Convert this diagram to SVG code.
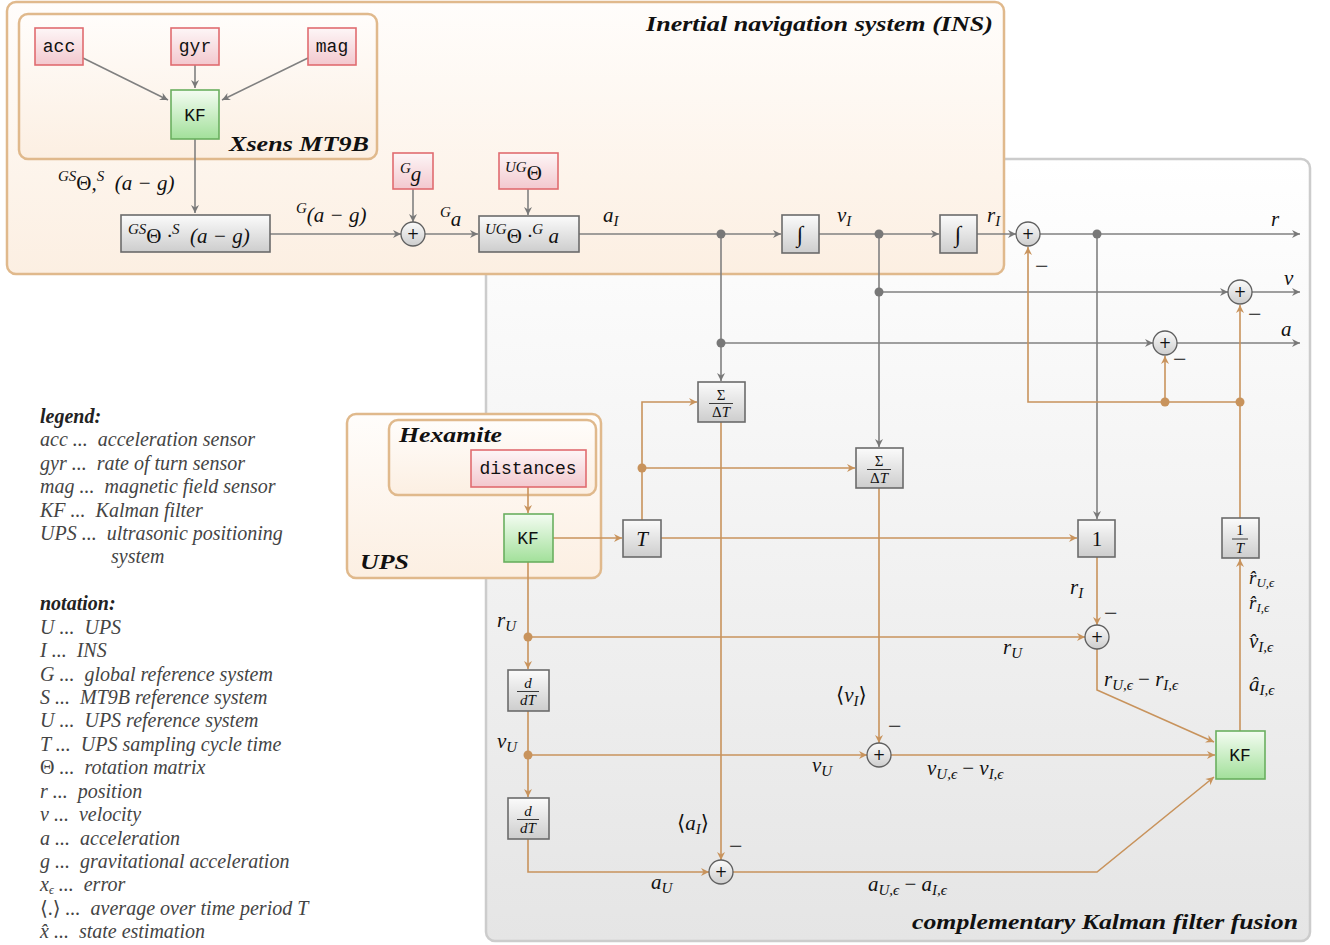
<svg xmlns="http://www.w3.org/2000/svg" width="1330" height="945" viewBox="0 0 1330 945">
  <defs>
    <linearGradient id="gPeach" x1="0" y1="0" x2="0" y2="1">
      <stop offset="0" stop-color="#fffdfb"/>
      <stop offset="1" stop-color="#fcefe2"/>
    </linearGradient>
    <linearGradient id="gPanel" x1="0" y1="0" x2="0" y2="1">
      <stop offset="0" stop-color="#ffffff"/>
      <stop offset="1" stop-color="#e5e5e5"/>
    </linearGradient>
    <linearGradient id="gRed" x1="0" y1="0" x2="0" y2="1">
      <stop offset="0" stop-color="#fdf6f7"/>
      <stop offset="1" stop-color="#f3c8ce"/>
    </linearGradient>
    <linearGradient id="gGreen" x1="0" y1="0" x2="0" y2="1">
      <stop offset="0" stop-color="#f4fcf2"/>
      <stop offset="1" stop-color="#a2e09a"/>
    </linearGradient>
    <linearGradient id="gGray" x1="0" y1="0" x2="0" y2="1">
      <stop offset="0" stop-color="#fbfbfb"/>
      <stop offset="1" stop-color="#cdcdcd"/>
    </linearGradient>
    <marker id="ag" viewBox="-10 -5 11 10" refX="0" refY="0" markerWidth="11" markerHeight="10" markerUnits="userSpaceOnUse" orient="auto">
      <path d="M-8,-4 L0,0 L-8,4 L-5.5,0 Z" fill="#787878"/>
    </marker>
    <marker id="at" viewBox="-10 -5 11 10" refX="0" refY="0" markerWidth="11" markerHeight="10" markerUnits="userSpaceOnUse" orient="auto">
      <path d="M-8,-4 L0,0 L-8,4 L-5.5,0 Z" fill="#c8935c"/>
    </marker>
    <style>
      .grp-ins { fill: url(#gPeach); stroke: #e0b98c; stroke-width: 2.5; }
      .grp-ckf { fill: url(#gPanel); stroke: #cccccc; stroke-width: 2.5; }
      .red { fill: url(#gRed); stroke: #e06c70; stroke-width: 1.6; }
      .green { fill: url(#gGreen); stroke: #6aaf5f; stroke-width: 1.6; }
      .blk { fill: url(#gGray); stroke: #6b6b6b; stroke-width: 1.6; }
      .sum { fill: url(#gGray); stroke: #5f5f5f; stroke-width: 1.3; }
      .cg { fill: none; stroke: #808080; stroke-width: 1.6; }
      .ct { fill: none; stroke: #c8935c; stroke-width: 1.6; }
      .dg { fill: #787878; }
      .dt { fill: #c8935c; }
      .mono { font-family: "Liberation Mono", "DejaVu Sans Mono", monospace; font-size: 18px; fill: #111; text-anchor: middle; }
      .plus { font-family: "DejaVu Sans", sans-serif; font-size: 15px; fill: #111; text-anchor: middle; }
      .ttl { font-family: "Liberation Serif", "DejaVu Serif", serif; font-style: italic; font-weight: bold; font-size: 21px; fill: #111; }
      .m { font-family: "Liberation Serif", "DejaVu Serif", serif; font-style: italic; font-size: 21px; fill: #111; white-space: pre; }
      .up { font-style: normal; }
      .s { font-size: 15px; }
      .mn { font-family: "Liberation Serif", "DejaVu Serif", serif; font-size: 24px; fill: #111; }
      .fr { font-family: "Liberation Serif", "DejaVu Serif", serif; font-style: italic; font-size: 15px; fill: #111; text-anchor: middle; }
      .lg { font-family: "Liberation Serif", "DejaVu Serif", serif; font-style: italic; font-size: 20px; fill: #444; white-space: pre; }
      .lgb { font-weight: bold; fill: #222; }
    </style>
  </defs>

  <!-- group frames -->
  <g id="ckf-frame">
    <rect class="grp-ckf" x="486" y="159" width="824" height="782" rx="9"/>
    <text class="ttl" x="912" y="929" textLength="386" lengthAdjust="spacingAndGlyphs">complementary Kalman filter fusion</text>
  </g>
  <g id="ins-frame">
    <rect class="grp-ins" x="7" y="2" width="997" height="272" rx="9"/>
    <text class="ttl" x="646" y="31" textLength="347" lengthAdjust="spacingAndGlyphs">Inertial navigation system (INS)</text>
  </g>
  <g id="xsens-frame">
    <rect class="grp-ins" x="19" y="14" width="358" height="145" rx="9"/>
    <text class="ttl" x="229" y="151" textLength="140" lengthAdjust="spacingAndGlyphs">Xsens MT9B</text>
  </g>
  <g id="ups-frame">
    <rect class="grp-ins" x="347" y="414" width="254" height="164" rx="9"/>
    <text class="ttl" x="360" y="569" textLength="49" lengthAdjust="spacingAndGlyphs">UPS</text>
  </g>
  <g id="hexamite-frame">
    <rect class="grp-ins" x="389" y="420" width="207" height="75" rx="9"/>
    <text class="ttl" x="399" y="442" textLength="103" lengthAdjust="spacingAndGlyphs">Hexamite</text>
  </g>

  <!-- connectors -->
  <g id="connectors">
    <!-- INS signal path (gray) -->
    <path class="cg" d="M83,58 L168,100" marker-end="url(#ag)"/>
    <path class="cg" d="M195,65 V88" marker-end="url(#ag)"/>
    <path class="cg" d="M308,58 L222,100" marker-end="url(#ag)"/>
    <path class="cg" d="M195,139 V213" marker-end="url(#ag)"/>
    <path class="cg" d="M270,234 H401" marker-end="url(#ag)"/>
    <path class="cg" d="M413,189 V222" marker-end="url(#ag)"/>
    <path class="cg" d="M425,234 H478" marker-end="url(#ag)"/>
    <path class="cg" d="M528,189 V215" marker-end="url(#ag)"/>
    <path class="cg" d="M579,234 H781" marker-end="url(#ag)"/>
    <path class="cg" d="M819,234 H939" marker-end="url(#ag)"/>
    <path class="cg" d="M977,234 H1016" marker-end="url(#ag)"/>
    <path class="cg" d="M1040,234 H1300" marker-end="url(#ag)"/>
    <path class="cg" d="M721,234 V381" marker-end="url(#ag)"/>
    <path class="cg" d="M721,343 H1153" marker-end="url(#ag)"/>
    <path class="cg" d="M1177,343 H1300" marker-end="url(#ag)"/>
    <path class="cg" d="M879,234 V447" marker-end="url(#ag)"/>
    <path class="cg" d="M879,292 H1228" marker-end="url(#ag)"/>
    <path class="cg" d="M1252,292 H1300" marker-end="url(#ag)"/>
    <path class="cg" d="M1097,234 V519" marker-end="url(#ag)"/>
    <circle class="dg" cx="721" cy="234" r="4.5"/>
    <circle class="dg" cx="879" cy="234" r="4.5"/>
    <circle class="dg" cx="1097" cy="234" r="4.5"/>
    <circle class="dg" cx="879" cy="292" r="4.5"/>
    <circle class="dg" cx="721" cy="343" r="4.5"/>

    <!-- UPS / fusion path (tan) -->
    <path class="ct" d="M528,487 V513" marker-end="url(#at)"/>
    <path class="ct" d="M553,538 H622" marker-end="url(#at)"/>
    <path class="ct" d="M661,538 H1077" marker-end="url(#at)"/>
    <path class="ct" d="M642,520 V402 H697" marker-end="url(#at)"/>
    <path class="ct" d="M642,468 H855" marker-end="url(#at)"/>
    <path class="ct" d="M721,422 V860" marker-end="url(#at)"/>
    <path class="ct" d="M879,488 V743" marker-end="url(#at)"/>
    <path class="ct" d="M1097,557 V625" marker-end="url(#at)"/>
    <path class="ct" d="M528,562 V669" marker-end="url(#at)"/>
    <path class="ct" d="M528,637 H1085" marker-end="url(#at)"/>
    <path class="ct" d="M528,711 V797" marker-end="url(#at)"/>
    <path class="ct" d="M528,755 H867" marker-end="url(#at)"/>
    <path class="ct" d="M891,755 H1215" marker-end="url(#at)"/>
    <path class="ct" d="M528,839 V872 H709" marker-end="url(#at)"/>
    <path class="ct" d="M733,872 H1097 L1214,777" marker-end="url(#at)"/>
    <path class="ct" d="M1097,649 V690 L1214,742" marker-end="url(#at)"/>
    <path class="ct" d="M1240,731 V559" marker-end="url(#at)"/>
    <path class="ct" d="M1240,518 V305" marker-end="url(#at)"/>
    <path class="ct" d="M1240,402 H1028 V247" marker-end="url(#at)"/>
    <path class="ct" d="M1165,402 V356" marker-end="url(#at)"/>
    <circle class="dt" cx="642" cy="468" r="4.5"/>
    <circle class="dt" cx="528" cy="637" r="4.5"/>
    <circle class="dt" cx="528" cy="755" r="4.5"/>
    <circle class="dt" cx="1165" cy="402" r="4.5"/>
    <circle class="dt" cx="1240" cy="402" r="4.5"/>
  </g>

  <!-- Xsens sensors and filter -->
  <g id="acc"><rect class="red" x="35" y="28" width="48" height="37"/><text class="mono" x="59" y="52">acc</text></g>
  <g id="gyr"><rect class="red" x="171" y="28" width="48" height="37"/><text class="mono" x="195" y="52">gyr</text></g>
  <g id="mag"><rect class="red" x="308" y="28" width="48" height="37"/><text class="mono" x="332" y="52">mag</text></g>
  <g id="kf-xsens"><rect class="green" x="171" y="90" width="48" height="49"/><text class="mono" x="195" y="121">KF</text></g>

  <!-- INS blocks -->
  <g id="rot-gs">
    <rect class="blk" x="121" y="215" width="149" height="37"/>
    <text class="m" x="128" y="243"><tspan class="s" dy="-9">GS</tspan><tspan class="up" dy="9">Θ </tspan>·<tspan class="s" dy="-9">S</tspan><tspan dy="9">  (a − g)</tspan></text>
  </g>
  <g id="gravity">
    <rect class="red" x="393" y="153" width="40" height="36"/>
    <text class="m" x="400" y="181"><tspan class="s" dy="-8">G</tspan><tspan dy="8">g</tspan></text>
  </g>
  <g id="sum-g"><circle class="sum" cx="413" cy="234" r="12"/><text class="plus" x="413" y="239">+</text></g>
  <g id="theta-ug">
    <rect class="red" x="499" y="153" width="59" height="36"/>
    <text class="m" x="505" y="180"><tspan class="s" dy="-8">UG</tspan><tspan class="up" dy="8">Θ</tspan></text>
  </g>
  <g id="rot-ug">
    <rect class="blk" x="479" y="216" width="100" height="36"/>
    <text class="m" x="485" y="243"><tspan class="s" dy="-9">UG</tspan><tspan class="up" dy="9">Θ </tspan>·<tspan class="s" dy="-9">G</tspan><tspan dy="9"> a</tspan></text>
  </g>
  <g id="int-v"><rect class="blk" x="782" y="215" width="37" height="38"/><text class="m" x="800" y="242" text-anchor="middle" style="font-size:23px">∫</text></g>
  <g id="int-r"><rect class="blk" x="940" y="215" width="37" height="38"/><text class="m" x="958" y="242" text-anchor="middle" style="font-size:23px">∫</text></g>
  <g id="sum-r"><circle class="sum" cx="1028" cy="234" r="12"/><text class="plus" x="1028" y="239">+</text></g>
  <g id="sum-v"><circle class="sum" cx="1240" cy="292" r="12"/><text class="plus" x="1240" y="297">+</text></g>
  <g id="sum-a"><circle class="sum" cx="1165" cy="343" r="12"/><text class="plus" x="1165" y="348">+</text></g>

  <!-- averaging blocks -->
  <g id="avg-a">
    <rect class="blk" x="698" y="382" width="47" height="40"/>
    <text class="fr" x="721" y="400" style="font-style:normal">Σ</text>
    <line x1="709" y1="403.5" x2="733" y2="403.5" stroke="#111" stroke-width="0.8"/>
    <text class="fr" x="721" y="417"><tspan style="font-style:normal">Δ</tspan>T</text>
  </g>
  <g id="avg-v">
    <rect class="blk" x="856" y="448" width="47" height="40"/>
    <text class="fr" x="879" y="466" style="font-style:normal">Σ</text>
    <line x1="867" y1="469.5" x2="891" y2="469.5" stroke="#111" stroke-width="0.8"/>
    <text class="fr" x="879" y="483"><tspan style="font-style:normal">Δ</tspan>T</text>
  </g>

  <!-- UPS -->
  <g id="distances"><rect class="red" x="471" y="450" width="115" height="37"/><text class="mono" x="528" y="474">distances</text></g>
  <g id="kf-ups"><rect class="green" x="504" y="514" width="49" height="48"/><text class="mono" x="528" y="544">KF</text></g>
  <g id="period"><rect class="blk" x="623" y="520" width="38" height="37"/><text class="m" x="642" y="546" text-anchor="middle">T</text></g>
  <g id="unit"><rect class="blk" x="1078" y="520" width="37" height="37"/><text class="m up" x="1097" y="546" text-anchor="middle">1</text></g>
  <g id="inv-period">
    <rect class="blk" x="1222" y="518" width="37" height="40"/>
    <text class="fr" x="1240" y="535" style="font-style:normal">1</text>
    <line x1="1232" y1="539" x2="1248" y2="539" stroke="#111" stroke-width="0.8"/>
    <text class="fr" x="1240" y="553">T</text>
  </g>
  <g id="diff-v">
    <rect class="blk" x="508" y="670" width="41" height="41"/>
    <text class="fr" x="528" y="688">d</text>
    <line x1="517" y1="691.5" x2="539" y2="691.5" stroke="#111" stroke-width="0.8"/>
    <text class="fr" x="528" y="705">dT</text>
  </g>
  <g id="diff-a">
    <rect class="blk" x="508" y="798" width="41" height="41"/>
    <text class="fr" x="528" y="816">d</text>
    <line x1="517" y1="819.5" x2="539" y2="819.5" stroke="#111" stroke-width="0.8"/>
    <text class="fr" x="528" y="833">dT</text>
  </g>
  <g id="sum-err-r"><circle class="sum" cx="1097" cy="637" r="12"/><text class="plus" x="1097" y="642">+</text></g>
  <g id="sum-err-v"><circle class="sum" cx="879" cy="755" r="12"/><text class="plus" x="879" y="760">+</text></g>
  <g id="sum-err-a"><circle class="sum" cx="721" cy="872" r="12"/><text class="plus" x="721" y="877">+</text></g>
  <g id="kf-fusion"><rect class="green" x="1216" y="731" width="49" height="48"/><text class="mono" x="1240" y="761">KF</text></g>

  <!-- signal labels -->
  <g id="labels">
    <text class="m" x="58" y="190"><tspan class="s" dy="-9">GS</tspan><tspan class="up" dy="9">Θ</tspan>,<tspan class="s" dy="-9">S</tspan><tspan dy="9">  (a − g)</tspan></text>
    <text class="m" x="296" y="222"><tspan class="s" dy="-9">G</tspan><tspan dy="9">(a − g)</tspan></text>
    <text class="m" x="440" y="226"><tspan class="s" dy="-9">G</tspan><tspan dy="9">a</tspan></text>
    <text class="m" x="603" y="222">a<tspan class="s" dy="4">I</tspan></text>
    <text class="m" x="837" y="222">v<tspan class="s" dy="4">I</tspan></text>
    <text class="m" x="987" y="222">r<tspan class="s" dy="4">I</tspan></text>
    <text class="m" x="1271" y="226">r</text>
    <text class="m" x="1284" y="285">v</text>
    <text class="m" x="1281" y="336">a</text>
    <text class="mn" x="1035" y="274">−</text>
    <text class="mn" x="1248" y="322">−</text>
    <text class="mn" x="1173" y="367">−</text>
    <text class="mn" x="1104" y="621">−</text>
    <text class="mn" x="888" y="734">−</text>
    <text class="mn" x="729" y="854">−</text>
    <text class="m" x="497" y="627">r<tspan class="s" dy="4">U</tspan></text>
    <text class="m" x="1003" y="654">r<tspan class="s" dy="4">U</tspan></text>
    <text class="m" x="1070" y="594">r<tspan class="s" dy="4">I</tspan></text>
    <text class="m" x="1104" y="686">r<tspan class="s" dy="4">U,ϵ</tspan><tspan class="up" dy="-4"> − </tspan>r<tspan class="s" dy="4">I,ϵ</tspan></text>
    <text class="m" x="836" y="702"><tspan class="up">⟨</tspan>v<tspan class="s" dy="4">I</tspan><tspan class="up" dy="-4">⟩</tspan></text>
    <text class="m" x="497" y="748">v<tspan class="s" dy="4">U</tspan></text>
    <text class="m" x="812" y="772">v<tspan class="s" dy="4">U</tspan></text>
    <text class="m" x="927" y="775">v<tspan class="s" dy="4">U,ϵ</tspan><tspan class="up" dy="-4"> − </tspan>v<tspan class="s" dy="4">I,ϵ</tspan></text>
    <text class="m" x="677" y="830"><tspan class="up">⟨</tspan>a<tspan class="s" dy="4">I</tspan><tspan class="up" dy="-4">⟩</tspan></text>
    <text class="m" x="651" y="889">a<tspan class="s" dy="4">U</tspan></text>
    <text class="m" x="868" y="891">a<tspan class="s" dy="4">U,ϵ</tspan><tspan class="up" dy="-4"> − </tspan>a<tspan class="s" dy="4">I,ϵ</tspan></text>
    <text class="m" x="1249" y="584" style="font-size:19px">r̂<tspan style="font-size:13px" dy="3">U,ϵ</tspan></text>
    <text class="m" x="1249" y="609" style="font-size:19px">r̂<tspan style="font-size:13px" dy="3">I,ϵ</tspan></text>
    <text class="m" x="1249" y="648">v̂<tspan class="s" dy="4">I,ϵ</tspan></text>
    <text class="m" x="1249" y="691">â<tspan class="s" dy="4">I,ϵ</tspan></text>
  </g>

  <!-- legend and notation -->
  <g id="legend">
    <text class="lg lgb" x="40" y="423">legend:</text>
    <text class="lg" x="40" y="446">acc ...  acceleration sensor</text>
    <text class="lg" x="40" y="470">gyr ...  rate of turn sensor</text>
    <text class="lg" x="40" y="493">mag ...  magnetic field sensor</text>
    <text class="lg" x="40" y="517">KF ...  Kalman filter</text>
    <text class="lg" x="40" y="540">UPS ...  ultrasonic positioning</text>
    <text class="lg" x="111" y="563">system</text>
    <text class="lg lgb" x="40" y="610">notation:</text>
    <text class="lg" x="40" y="634">U ...  UPS</text>
    <text class="lg" x="40" y="657">I ...  INS</text>
    <text class="lg" x="40" y="681">G ...  global reference system</text>
    <text class="lg" x="40" y="704">S ...  MT9B reference system</text>
    <text class="lg" x="40" y="727">U ...  UPS reference system</text>
    <text class="lg" x="40" y="751">T ...  UPS sampling cycle time</text>
    <text class="lg" x="40" y="774"><tspan style="font-style:normal">Θ</tspan> ...  rotation matrix</text>
    <text class="lg" x="40" y="798">r ...  position</text>
    <text class="lg" x="40" y="821">v ...  velocity</text>
    <text class="lg" x="40" y="845">a ...  acceleration</text>
    <text class="lg" x="40" y="868">g ...  gravitational acceleration</text>
    <text class="lg" x="40" y="891">x<tspan style="font-size:12px" dy="3">ϵ</tspan><tspan dy="-3"> ...  error</tspan></text>
    <text class="lg" x="40" y="915"><tspan style="font-style:normal">⟨.⟩</tspan> ...  average over time period T</text>
    <text class="lg" x="40" y="938">x̂ ...  state estimation</text>
  </g>
</svg>
